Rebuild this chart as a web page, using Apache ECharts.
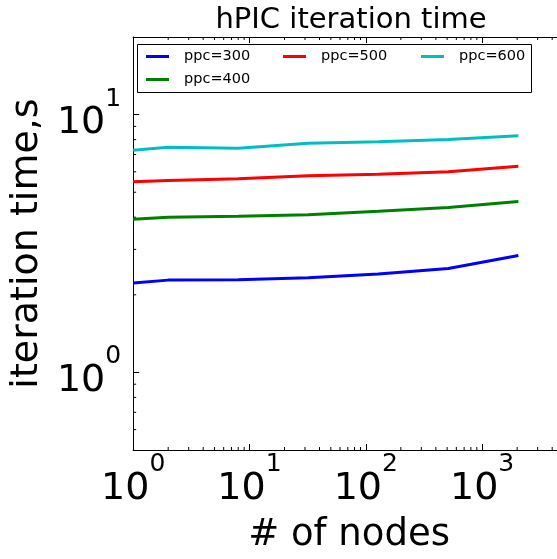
<!DOCTYPE html>
<html>
<head>
<meta charset="utf-8">
<script src="https://cdn.jsdelivr.net/npm/echarts@6/dist/echarts.min.js"></script>
<style>html,body{margin:0;padding:0;background:#fff;}#chart{width:557px;height:559px;}</style>
</head>
<body>
<div id="chart"></div>
<script>
const nodes = [1, 2, 8, 32, 128, 512, 2048];
const ppc300 = [2.22, 2.28, 2.29, 2.33, 2.41, 2.53, 2.84];
const ppc400 = [3.93, 4.00, 4.03, 4.09, 4.22, 4.36, 4.60];
const ppc500 = [5.49, 5.55, 5.64, 5.79, 5.87, 6.00, 6.31];
const ppc600 = [7.27, 7.47, 7.41, 7.74, 7.84, 8.00, 8.27];
const seriesNames = ['ppc=300', 'ppc=400', 'ppc=500', 'ppc=600'];
const seriesColors = ['#0000ff', '#008000', '#ff0000', '#00bfbf'];
const xMin = 1, xMax = 4400, yMin = 0.5, yMax = 20;
const xMinorTicks = [2,3,4,5,6,7,8,9,20,30,40,50,60,70,80,90,200,300,400,500,600,700,800,900,2000,3000,4000];
const yMinorTicks = [0.6,0.7,0.8,0.9,2,3,4,5,6,7,8,9];

const FONT = 'DejaVu Sans';
const chart = echarts.init(document.getElementById('chart'));

function pow10Label(v) {
  const l = Math.log10(v);
  const e = Math.round(l);
  if (Math.abs(l - e) > 1e-6) return '';
  return '{b|10}{s|' + e + '}';
}
const richLabel = {
  b: {fontFamily: FONT, fontSize: 38, color: '#000', verticalAlign: 'bottom', padding: [18, 0, 0, 0]},
  s: {fontFamily: FONT, fontSize: 25, color: '#000', verticalAlign: 'top'}
};

const allData = [ppc300, ppc400, ppc500, ppc600];
const lineSeries = allData.map((arr, i) => ({
  name: seriesNames[i],
  type: 'line',
  xAxisIndex: 0, yAxisIndex: 0,
  data: nodes.map((n, j) => [n, arr[j]]),
  showSymbol: false,
  symbol: 'none',
  lineStyle: {color: seriesColors[i], width: 3},
  itemStyle: {color: seriesColors[i]},
  animation: false,
  z: 3
}));

function minorTickSeries(values, axis) {
  return {
    type: 'custom',
    xAxisIndex: 0, yAxisIndex: 0,
    silent: true,
    clip: false,
    animation: false,
    data: values.map(v => axis === 'x' ? [v, yMin] : [xMin, v]),
    renderItem: function (params, api) {
      const v = api.value(axis === 'x' ? 0 : 1);
      const L = 3;
      if (axis === 'x') {
        const pb = api.coord([v, yMin]);
        const pt = api.coord([v, yMax]);
        return {type: 'group', children: [
          {type: 'line', shape: {x1: pb[0], y1: pb[1], x2: pb[0], y2: pb[1] - L}, style: {stroke: '#000', lineWidth: 1}},
          {type: 'line', shape: {x1: pt[0], y1: pt[1], x2: pt[0], y2: pt[1] + L}, style: {stroke: '#000', lineWidth: 1}}
        ]};
      } else {
        const pl = api.coord([xMin, v]);
        return {type: 'line', shape: {x1: pl[0], y1: pl[1], x2: pl[0] + L, y2: pl[1]}, style: {stroke: '#000', lineWidth: 1}};
      }
    }
  };
}

const legendText = {fontFamily: FONT, fontSize: 14.5, color: '#000', lineHeight: 15, padding: [0, 0, 0, 10]};
const option = {
  backgroundColor: '#fff',
  animation: false,
  title: {
    text: 'hPIC iteration time',
    left: 346, top: 1, textAlign: 'center',
    textStyle: {fontFamily: FONT, fontSize: 29, fontWeight: 'normal', color: '#000'}
  },
  legend: [
    {data: ['ppc=300', 'ppc=400'], orient: 'vertical', left: 146, top: 49, padding: 0, itemWidth: 23, itemHeight: 3, itemGap: 8, icon: 'rect', textStyle: legendText},
    {data: ['ppc=500'], orient: 'vertical', left: 283, top: 49, padding: 0, itemWidth: 23, itemHeight: 3, icon: 'rect', textStyle: legendText},
    {data: ['ppc=600'], orient: 'vertical', left: 421, top: 49, padding: 0, itemWidth: 23, itemHeight: 3, icon: 'rect', textStyle: legendText}
  ],
  graphic: [
    {type: 'rect', left: 137, top: 44, shape: {width: 394, height: 48}, style: {fill: 'rgba(0,0,0,0)', stroke: '#000', lineWidth: 1}, z: 100}
  ],
  grid: {left: 130, top: 37, width: 427, height: 416, containLabel: false},
  xAxis: [
    {type: 'log', logBase: 10, min: xMin, max: xMax, position: 'bottom',
     name: '# of nodes', nameLocation: 'middle', nameGap: 67,
     nameTextStyle: {fontFamily: FONT, fontSize: 37, color: '#000', padding: [0, 0, 0, 8]},
     axisLine: {show: true, onZero: false, lineStyle: {color: '#000', width: 1}},
     axisTick: {show: true, inside: true, length: 6, lineStyle: {color: '#000'}},
     axisLabel: {formatter: pow10Label, rich: richLabel, margin: 2, showMinLabel: true, showMaxLabel: false},
     splitLine: {show: false}},
    {type: 'log', logBase: 10, min: xMin, max: xMax, position: 'top',
     axisLine: {show: true, onZero: false, lineStyle: {color: '#000', width: 1}},
     axisTick: {show: true, inside: true, length: 6, lineStyle: {color: '#000'}},
     axisLabel: {show: false}, splitLine: {show: false}}
  ],
  yAxis: [
    {type: 'log', logBase: 10, min: yMin, max: yMax, position: 'left',
     name: 'iteration time,s', nameLocation: 'middle', nameGap: 81,
     nameTextStyle: {fontFamily: FONT, fontSize: 38, color: '#000'},
     axisLine: {show: true, onZero: false, lineStyle: {color: '#000', width: 1}},
     axisTick: {show: true, inside: true, length: 6, lineStyle: {color: '#000'}},
     axisLabel: {formatter: pow10Label, rich: richLabel, margin: 12, showMinLabel: false, showMaxLabel: false},
     splitLine: {show: false}}
  ],
  series: lineSeries.concat([minorTickSeries(xMinorTicks, 'x'), minorTickSeries(yMinorTicks, 'y')])
};
chart.setOption(option);
</script>
</body>
</html>
